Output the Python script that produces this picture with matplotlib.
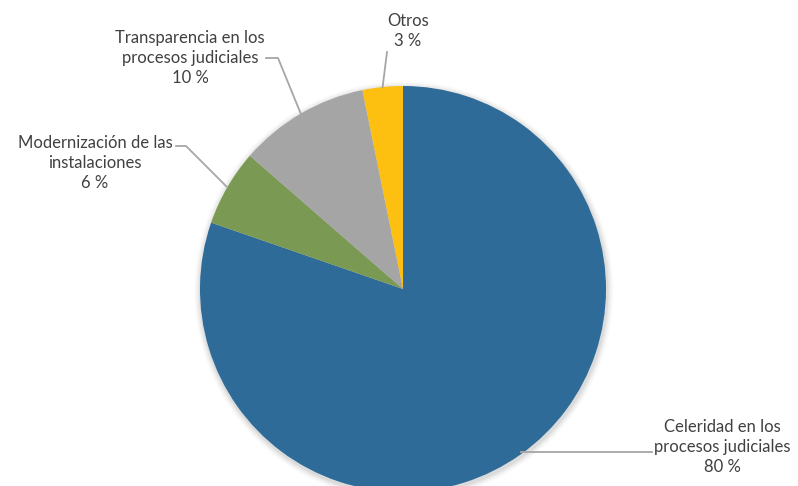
import numpy as np
import matplotlib.pyplot as plt
from matplotlib.patches import Circle

# datos
categorias = ['Celeridad en los\nprocesos judiciales', 'Modernización de las\ninstalaciones',
              'Transparencia en los\nprocesos judiciales', 'Otros']
valores = [80.3, 6.1, 10.4, 3.2]
colores = ['#2E6B98', '#7A9952', '#A5A5A5', '#FDC010']

plt.rcParams['font.family'] = ['Lato', 'DejaVu Sans']

W, H = 798, 486
CX, CY, R = 403, 289, 203  # centro y radio del pastel en pixeles


def px(x, y):
    # pixel -> coordenadas de datos
    return (x - CX) / R, (CY - y) / R


fig = plt.figure(figsize=(W / 100, H / 100), dpi=100)
ax = fig.add_axes([0, 0, 1, 1])

# sombra suave
for i, a in enumerate([0.05, 0.04, 0.03, 0.02]):
    ax.add_patch(Circle((0.004, -0.01), 1 + 0.008 * (i + 1), color='black', alpha=a, lw=0, zorder=0))

wedges, _ = ax.pie(valores, colors=colores, startangle=90, counterclock=False,
                   radius=1, center=(0, 0), frame=True,
                   wedgeprops=dict(linewidth=0, zorder=1))
ax.set_xlim(px(0, 0)[0], px(W, 0)[0])
ax.set_ylim(px(0, H)[1], px(0, 0)[1])
ax.set_aspect('equal')
ax.axis('off')

# posiciones de etiquetas (pixeles) y codos de las lineas guia
pos_texto = [(722, 447), (95, 163), (190, 58), (408, 31)]
codos = [[(652, 452)], [(186, 146), (176, 146)], [(278, 58), (266, 58)], [(387, 52)]]

for w, cat, v, (tx, ty), codo in zip(wedges, categorias, valores, pos_texto, codos):
    ang = np.deg2rad((w.theta1 + w.theta2) / 2)
    x0, y0 = np.cos(ang), np.sin(ang)
    pts = [(x0, y0)] + [px(*c) for c in codo]
    if codo[0][1] == 452:
        pts = [(x0, px(0, 452)[1])] + [px(*c) for c in codo]
    xs, ys = zip(*pts)
    ax.plot(xs, ys, color='#A6A6A6', lw=1.3, zorder=3)
    ax.text(*px(tx, ty), f'{cat}\n{round(v)} %', ha='center', va='center',
            fontsize=12, color='#404040', linespacing=1.3)

plt.savefig('out.png', dpi=100)
